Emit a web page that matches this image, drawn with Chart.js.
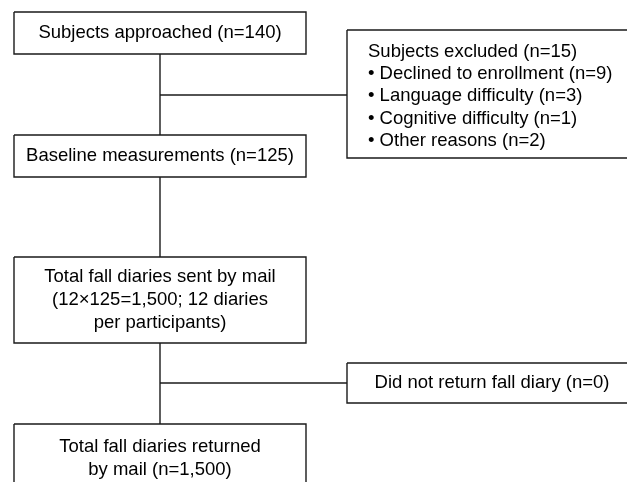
<!DOCTYPE html>
<html>

<head>
    <meta charset="UTF-8">
    <title>Study flow diagram</title>
    <script src="https://cdn.jsdelivr.net/npm/chart.js"></script>
    <style>
        body {
            margin: 0;
            background: #fff;
        }

        .wrap {
            width: 627px;
            height: 482px;
        }
    </style>
</head>

<body>
    <div class="wrap">
        <canvas id="flowChart"></canvas>
    </div>

    <script>
        // Box texts (main column first, then side boxes)
        const boxText = [
            ['Subjects approached (n=140)'],
            ['Baseline measurements (n=125)'],
            ['Total fall diaries sent by mail', '(12×125=1,500; 12 diaries', 'per participants)'],
            ['Total fall diaries returned', 'by mail (n=1,500)'],
            ['Did not return fall diary (n=0)']
        ];
        const excludedTitle = 'Subjects excluded (n=15)';
        const excludedReasons = ['Declined to enrollment (n=9)', 'Language difficulty (n=3)', 'Cognitive difficulty (n=1)', 'Other reasons (n=2)'];

        // Layout in diagram units (same as pixels of the page)
        const boxLeft = [14, 14, 14, 14, 347, 347];
        const boxRight = [306, 306, 306, 306, 632, 632];
        const boxTop = [12, 135, 257, 424, 363, 30];
        const boxBottom = [54, 177, 343, 492, 403, 158];
        const trunkX = 160;
        const branchY = [95, 383];
        const branchEnd = 347;

        const lineColor = '#1a1a1a';

        function boxPath(i) {
            return [
                { x: boxLeft[i], y: boxTop[i] },
                { x: boxRight[i], y: boxTop[i] },
                { x: boxRight[i], y: boxBottom[i] },
                { x: boxLeft[i], y: boxBottom[i] },
                { x: boxLeft[i], y: boxTop[i] }
            ];
        }

        const datasets = [];
        for (let i = 0; i < boxLeft.length; i++) {
            datasets.push({ data: boxPath(i) });
        }
        // vertical connectors between main boxes
        for (let i = 0; i < 3; i++) {
            datasets.push({ data: [{ x: trunkX, y: boxBottom[i] }, { x: trunkX, y: boxTop[i + 1] }] });
        }
        // side branches
        branchY.forEach(y => {
            datasets.push({ data: [{ x: trunkX, y: y }, { x: branchEnd, y: y }] });
        });
        datasets.forEach(d => {
            d.showLine = true;
            d.pointRadius = 0;
            d.borderColor = lineColor;
            d.borderWidth = 1.4;
            d.tension = 0;
            d.fill = false;
        });

        const textPlugin = {
            id: 'boxText',
            afterDatasetsDraw(chart) {
                const ctx = chart.ctx;
                const xs = chart.scales.x;
                const ys = chart.scales.y;
                ctx.save();
                ctx.fillStyle = '#000';
                ctx.font = '18.5px Arial, "Liberation Sans", sans-serif';
                ctx.textBaseline = 'middle';

                // centered boxes
                ctx.textAlign = 'center';
                const lineGap = 22.8;
                boxText.forEach((lines, i) => {
                    const cx = i === 4 ? 492 : (boxLeft[i] + boxRight[i]) / 2;
                    const cy = i === 3 ? 447 + lineGap / 2 : (boxTop[i] + boxBottom[i]) / 2;
                    const y0 = cy - (lines.length - 1) * lineGap / 2;
                    lines.forEach((t, k) => {
                        ctx.fillText(t, xs.getPixelForValue(cx), ys.getPixelForValue(y0 + k * lineGap));
                    });
                });

                // exclusion list
                ctx.textAlign = 'left';
                const listX = 368;
                const listY = 52;
                const listGap = 22.2;
                ctx.fillText(excludedTitle, xs.getPixelForValue(listX), ys.getPixelForValue(listY));
                excludedReasons.forEach((t, k) => {
                    ctx.fillText('• ' + t, xs.getPixelForValue(listX), ys.getPixelForValue(listY + (k + 1) * listGap));
                });
                ctx.restore();
            }
        };

        new Chart(document.getElementById('flowChart'), {
            type: 'scatter',
            data: { datasets: datasets },
            options: {
                responsive: true,
                maintainAspectRatio: false,
                animation: false,
                layout: { padding: 0 },
                scales: {
                    x: { type: 'linear', min: 0, max: 627, display: false },
                    y: { type: 'linear', min: 0, max: 482, reverse: true, display: false }
                },
                plugins: {
                    legend: { display: false },
                    tooltip: { enabled: false }
                }
            },
            plugins: [textPlugin]
        });
    </script>
</body>

</html>
